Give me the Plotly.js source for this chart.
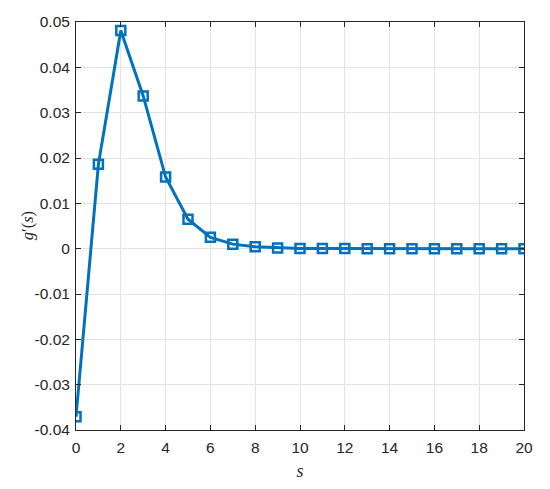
<!DOCTYPE html>
<html>
<head>
<meta charset="utf-8">
<script src="https://cdn.plot.ly/plotly-3.0.1.min.js"></script>
<style>html,body{margin:0;padding:0;background:#fff;}#chart{width:550px;height:489px;}</style>
</head>
<body>
<div id="chart"></div>
<script>
const sValues = [0,1,2,3,4,5,6,7,8,9,10,11,12,13,14,15,16,17,18,19,20];
const gPrime = [-0.0371,0.0186,0.0481,0.0337,0.0158,0.0065,0.0025,0.0010,0.0004,0.00015,0.00005,0.00002,0.00001,0,0,0,0,0,0,0,0];
const xTickVals = [0,2,4,6,8,10,12,14,16,18,20];
const yTickVals = [-0.04,-0.03,-0.02,-0.01,0,0.01,0.02,0.03,0.04,0.05];
const yTickText = ['-0.04','-0.03','-0.02','-0.01','0','0.01','0.02','0.03','0.04','0.05'];

const trace = {
  x: sValues, y: gPrime, type: 'scatter', mode: 'lines+markers',
  line: {color: '#0072BD', width: 3},
  marker: {symbol: 'square-open', size: 9, color: '#0072BD', line: {width: 2.5, color: '#0072BD'}},
  hoverinfo: 'none'
};
const axisCommon = {
  showgrid: true, gridcolor: '#e3e3e3', gridwidth: 1,
  showline: true, linecolor: '#262626', linewidth: 1, mirror: 'ticks',
  ticks: 'inside', ticklen: 5, tickcolor: '#262626', zeroline: false,
  tickfont: {family: 'Liberation Sans', size: 15.5, color: '#262626'}
};
const layout = {
  width: 550, height: 489,
  margin: {l: 76, r: 26, t: 22, b: 59},
  paper_bgcolor: '#fff', plot_bgcolor: '#fff',
  showlegend: false,
  xaxis: Object.assign({}, axisCommon, {
    range: [0, 20], tickvals: xTickVals, ticktext: xTickVals.map(String),
    ticklabelstandoff: 3,
    title: {text: '<i>s</i>', font: {family: 'Liberation Serif', size: 18, color: '#262626'}, standoff: 9}
  }),
  yaxis: Object.assign({}, axisCommon, {
    range: [-0.04, 0.05], tickvals: yTickVals, ticktext: yTickText,
    ticklabelstandoff: 2
  }),
  annotations: [{
    text: '<i>g</i>′(<i>s</i>)', xref: 'paper', yref: 'paper', x: -0.109, y: 0.5,
    xanchor: 'center', yanchor: 'middle', textangle: -90, showarrow: false,
    font: {family: 'Liberation Serif', size: 16.5, color: '#262626'}
  }]
};
Plotly.newPlot('chart', [trace], layout, {displayModeBar: false, staticPlot: true});
</script>
</body>
</html>
